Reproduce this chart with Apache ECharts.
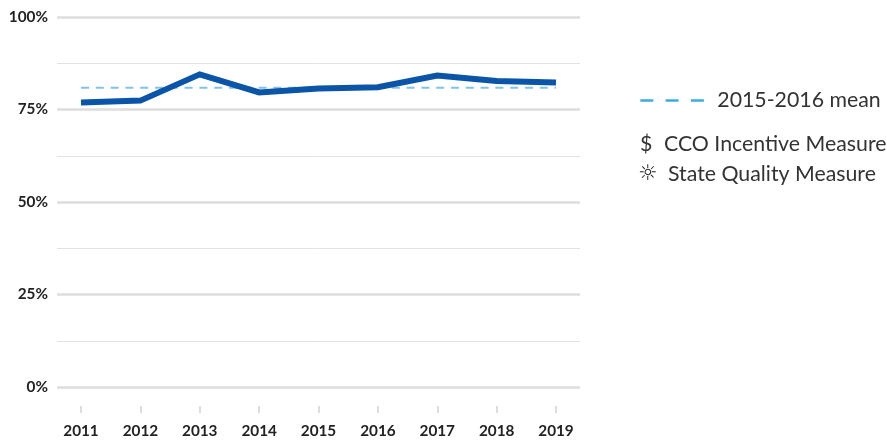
<!DOCTYPE html>
<html lang="en">
<head>
    <meta charset="UTF-8">
    <title>Measure over time</title>
    <style>
        html,body{ margin:0; padding:0; background:#fff; }
        #dis{ width:887px; height:441px; }
    </style>
    <script src="https://cdn.jsdelivr.net/npm/echarts@6/dist/echarts.min.js"></script>
</head>
<body>
<div id="dis"></div>
<script>
    var years = ["2011","2012","2013","2014","2015","2016","2017","2018","2019"];
    var rate = [76.9,77.4,84.5,79.6,80.7,81.0,84.2,82.7,82.3];
    var mean = [80.9,80.9,80.9,80.9,80.9,80.9,80.9,80.9,80.9];
    var mean_name = "2015-2016 mean";
    var note_names = ["CCO Incentive Measure","State Quality Measure"];

    var my_dis = echarts.init(document.getElementById("dis"));
    var font = "Lato";
    var option = {
        animation:false,
        textStyle:{ fontFamily:font },
        legend:{
            left:639, top:90, padding:0, itemWidth:65, itemHeight:14, itemGap:0,
            textStyle:{ fontFamily:font, fontSize:21.3, color:"#333", padding:[0,0,0,7] },
            data:[{ name:mean_name, itemStyle:{ opacity:0 }, lineStyle:{ color:"#3daae2", width:2.6, type:[13,12.3] } }]
        },
        grid:[
            // horizontal rules run wider than the data
            { left:57, right:307, top:17, bottom:54 },
            { left:81, right:331, top:17, bottom:54 },
            // year ticks sit below the rules, on their own strip
            { left:81, right:331, top:405, height:1 }
        ],
        xAxis:[
            { gridIndex:0, type:"category", data:years, show:false },
            { gridIndex:1, type:"category", data:years, boundaryGap:false, show:false },
            {
                gridIndex:2, type:"category", data:years, boundaryGap:false,
                axisLine:{ show:false },
                axisTick:{ show:true, length:7, lineStyle:{ color:"#ddd", width:2 } },
                axisLabel:{ color:"#222", fontSize:15.3, fontWeight:"bold", margin:18, showMinLabel:true, showMaxLabel:true },
                splitLine:{ show:false }
            }
        ],
        yAxis:[
            {
                gridIndex:0, type:"value", min:0, max:100, interval:25,
                axisLine:{ show:false }, axisTick:{ show:false },
                axisLabel:{ color:"#222", fontSize:15.3, fontWeight:"bold", margin:9, formatter:"{value}%" },
                splitLine:{ show:true, lineStyle:{ color:"#ddd", width:2.5 } },
                minorTick:{ show:false, splitNumber:2 },
                minorSplitLine:{ show:true, lineStyle:{ color:"#e2e2e2", width:1 } }
            },
            { gridIndex:1, type:"value", min:0, max:100, interval:25, show:false, splitLine:{ show:false } },
            { gridIndex:2, type:"value", min:0, max:1, show:false, splitLine:{ show:false } }
        ],
        series:[
            {
                name:mean_name, type:"line", xAxisIndex:1, yAxisIndex:1, data:mean, symbol:"none",
                lineStyle:{ color:"#7fc4e8", width:2, type:[8,6.8] }
            },
            {
                name:"Rate", type:"line", xAxisIndex:1, yAxisIndex:1, data:rate, symbol:"none", z:3,
                lineStyle:{ color:"#0b55a8", width:6, join:"miter" }
            }
        ],
        graphic:[
            { type:"text", left:640, top:134, style:{ text:"$", fontFamily:font, fontSize:21.3, fill:"#333" } },
            { type:"text", left:664, top:134, style:{ text:note_names[0], fontFamily:font, fontSize:21.3, fill:"#333" } },
            { type:"text", left:638, top:163, style:{ text:"\u263C", fontFamily:"DejaVu Sans", fontSize:22, fill:"#222" } },
            { type:"text", left:668, top:164, style:{ text:note_names[1], fontFamily:font, fontSize:21.3, fill:"#333" } }
        ]
    };
    my_dis.setOption(option);
</script>
</body>
</html>
